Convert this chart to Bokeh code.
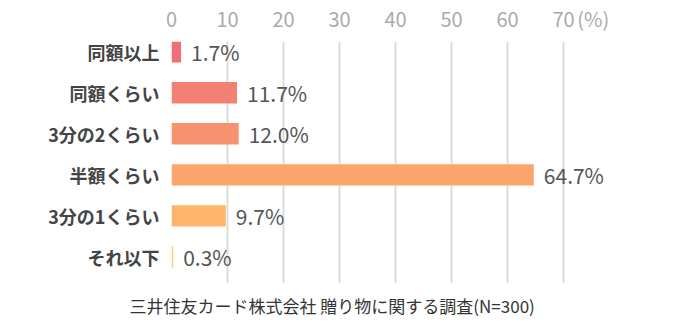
from bokeh.plotting import figure
from bokeh.models import Range1d, FixedTicker, ColumnDataSource, Title
from bokeh.core.properties import value
from bokeh.embed import file_html
from bokeh.resources import INLINE

categories = ["同額以上", "同額くらい", "3分の2くらい", "半額くらい", "3分の1くらい", "それ以下"]
values = [1.7, 11.7, 12.0, 64.7, 9.7, 0.3]
colors = ["#EF6F76", "#F28074", "#F69270", "#FBA46C", "#FEB46A", "#FFC86E"]
x_ticks = [0, 10, 20, 30, 40, 50, 60, 70]
unit_label = "(%)"
source_note = "三井住友カード株式会社 贈り物に関する調査(N=300)"

FONT = "Noto Sans CJK JP"

pos = list(range(len(categories)))
src = ColumnDataSource(dict(
    y=pos,
    v=values,
    c=colors,
    lab=[f"{v:.1f}%" for v in values],
))

p = figure(
    output_backend="svg", toolbar_location=None,
    frame_width=504, frame_height=242,
    min_border_left=171, min_border_right=6, min_border_top=30, min_border_bottom=0,
    x_range=Range1d(0, 90), y_range=Range1d(5.65, -0.25),
    x_axis_location="above",
    outline_line_color=None, background_fill_color="white", border_fill_color="white",
)

# x axis (above); the unit "(%)" sits just right of the last tick label
unit_pos = x_ticks[-1] + 5.3
xa = p.xaxis[0]
xa.ticker = FixedTicker(ticks=x_ticks + [unit_pos])
xa.major_label_overrides = {unit_pos: unit_label}
xa.axis_line_color = None
xa.major_tick_line_color = None
xa.minor_tick_line_color = None
xa.major_label_text_color = "#AAAAAA"
xa.major_label_text_font = FONT
xa.major_label_text_font_size = "20px"
xa.major_label_standoff = 3

# y axis (left)
ya = p.yaxis[0]
ya.ticker = FixedTicker(ticks=pos)
ya.major_label_overrides = {i: c for i, c in zip(pos, categories)}
ya.axis_line_color = None
ya.major_tick_line_color = None
ya.minor_tick_line_color = None
ya.major_label_text_color = "#444444"
ya.major_label_text_font = FONT
ya.major_label_text_font_style = "bold"
ya.major_label_text_font_size = "18px"
ya.major_label_standoff = 6

p.xgrid.ticker = FixedTicker(ticks=x_ticks)
p.xgrid.grid_line_color = "#DCDCDC"
p.xgrid.grid_line_width = 2
p.ygrid.grid_line_color = None

p.hbar(y="y", left=0, right="v", height=0.52, fill_color="c", line_color=None, source=src)

p.text(x="v", y="y", text="lab", x_offset=10, text_baseline="middle", text_align="left",
       text_color="#555555", text_font=value(FONT), text_font_size="21px", source=src)

p.add_layout(Title(text=source_note, align="left", offset=-42, standoff=15,
                   text_font=FONT, text_font_size="17px", text_color="#333333",
                   text_font_style="normal"), "below")

open("out.html", "w").write(file_html(p, INLINE))
